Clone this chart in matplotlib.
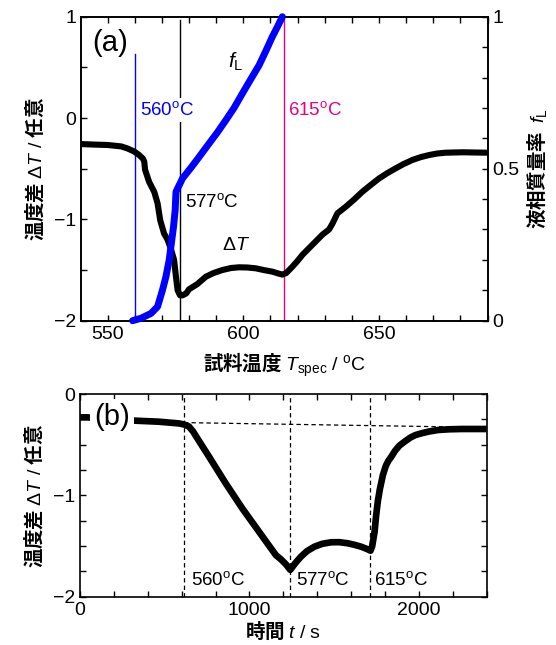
import matplotlib
matplotlib.use("Agg")
import matplotlib.pyplot as plt
from matplotlib.ticker import MultipleLocator

plt.rcParams['font.family'] = ['Liberation Sans', 'Noto Sans CJK JP', 'DejaVu Sans']
plt.rcParams['mathtext.fontset'] = 'custom'
plt.rcParams['mathtext.rm'] = 'Liberation Sans'
plt.rcParams['mathtext.it'] = 'Liberation Sans:italic'
plt.rcParams['mathtext.bf'] = 'Liberation Sans:bold'

# ---------------- data: panel (a) ----------------
temp_dT = [539.5, 545, 550, 555, 557.3, 559.8, 561.6, 563.0, 563.5, 563.8, 565.3, 567.2,
           568.4, 569.4, 570.8, 572.1, 573.3, 574.5, 575.2, 575.8, 576.7, 577.6, 579.0,
           580.0, 583.0, 586.2, 589.0, 592.3, 595.5, 598.5, 601.5, 604.6, 607.5, 610.7,
           613.0, 614.4, 615.8, 616.9, 618.1, 620.0, 621.8, 625.5, 629.2, 631.6, 632.9,
           634.7, 637.8, 641.0, 643.9, 647.0, 650.1, 653.0, 656.2, 659.0, 662.3, 665.5,
           668.5, 671.5, 674.6, 680.8, 685.0, 689.5]
dT_a = [-0.256, -0.262, -0.266, -0.28, -0.30, -0.33, -0.365, -0.40, -0.43, -0.51, -0.63, -0.73,
        -0.84, -1.01, -1.14, -1.20, -1.29, -1.40, -1.57, -1.70, -1.75, -1.75, -1.73,
        -1.69, -1.64, -1.566, -1.53, -1.50, -1.48, -1.473, -1.475, -1.483, -1.50, -1.516,
        -1.535, -1.545, -1.53, -1.50, -1.467, -1.41, -1.35, -1.25, -1.15, -1.10, -1.04,
        -0.94, -0.875, -0.80, -0.727, -0.66, -0.595, -0.545, -0.496, -0.455, -0.414, -0.385,
        -0.365, -0.350, -0.342, -0.338, -0.340, -0.342]

temp_fL = [559.2, 562.3, 566.0, 568.4, 570.2, 571.5, 572.7, 573.5, 574.3, 574.9, 575.2,
           576.4, 577.6, 580.7, 583.0, 587.4, 590.5, 593.6, 596.6, 599.7, 602.8, 605.8,
           608.3, 610.7, 612.6, 614.4]
fL = [0.0, 0.008, 0.024, 0.046, 0.10, 0.145, 0.20, 0.255, 0.31, 0.364, 0.424,
      0.446, 0.468, 0.503, 0.53, 0.583, 0.62, 0.66, 0.70, 0.748, 0.795, 0.84,
      0.887, 0.934, 0.967, 1.0]

marks_a = [560, 576.5, 615]
mark_labels = ['560', '577', '615']

# ---------------- data: panel (b) ----------------
t_b = [0, 40, 326, 464, 583, 613, 642, 667, 692, 761, 859, 958, 1057, 1156, 1185, 1215,
       1241, 1270, 1304, 1340, 1383, 1430, 1482, 1530, 1581, 1620, 1660, 1695, 1715, 1725,
       1739, 1748, 1758, 1770, 1788, 1805, 1820, 1838, 1860, 1885, 1916, 1950, 1980, 2015,
       2060, 2114, 2180, 2252, 2400]
dT_b = [-0.23, -0.23, -0.263, -0.273, -0.29, -0.30, -0.32, -0.37, -0.437, -0.618, -0.88,
        -1.13, -1.36, -1.59, -1.63, -1.68, -1.735, -1.67, -1.605, -1.55, -1.507, -1.478,
        -1.463, -1.462, -1.473, -1.488, -1.507, -1.53, -1.546, -1.50, -1.358, -1.20, -1.06,
        -0.94, -0.80, -0.71, -0.66, -0.618, -0.56, -0.51, -0.47, -0.43, -0.405, -0.388,
        -0.37, -0.355, -0.348, -0.345, -0.345]
marks_b = [613, 1241, 1713]
base_t = [613, 2400]
base_dT = [-0.282, -0.330]

fig = plt.figure(figsize=(5.56, 6.45), dpi=100)

jp = dict(family=['Noto Sans CJK JP', 'Liberation Sans'], fontweight='bold', fontsize=14)
TICK_FS = 14

def style(ax):
    ax.tick_params(which='both', direction='in', labelsize=TICK_FS, width=1.0)
    ax.tick_params(which='major', length=4.5)
    ax.tick_params(which='minor', length=4.5)
    for s in ax.spines.values():
        s.set_linewidth(1.2)

# ---------------- panel (a) ----------------
axa = fig.add_axes([0.1462, 0.5028, 0.8768 - 0.1462, 0.9741 - 0.5028])
axa.set_xlim(540.3, 690)
axa.set_ylim(-2, 1)
axa.xaxis.set_major_locator(MultipleLocator(50))
axa.xaxis.set_minor_locator(MultipleLocator(10))
axa.yaxis.set_major_locator(MultipleLocator(1))
axa.yaxis.set_minor_locator(MultipleLocator(0.5))
style(axa)
axa.tick_params(which='both', top=True, right=False)

axa.plot(temp_dT, dT_a, color='black', lw=4.4,
         solid_joinstyle='round', solid_capstyle='round', zorder=3)

axa.plot([marks_a[0]] * 2, [-2, 0.63], color='#0000FF', lw=1.0, zorder=2)
axa.plot([marks_a[1]] * 2, [-2, 0.97], color='black', lw=1.0, zorder=2)
axa.plot([marks_a[2]] * 2, [-2, 1.0], color='#E6007E', lw=1.0, zorder=2)

axr = axa.twinx()
axr.set_ylim(0, 1)
axr.yaxis.set_major_locator(MultipleLocator(0.5))
axr.yaxis.set_minor_locator(MultipleLocator(0.1))
axr.yaxis.set_major_formatter(matplotlib.ticker.FuncFormatter(lambda v, p: '%g' % v))
style(axr)
axr.tick_params(which='both', left=False, right=True, top=False, bottom=False)
axr.plot(temp_fL, fL, color='#0000FF', lw=5.0,
         solid_joinstyle='round', solid_capstyle='round', zorder=4, clip_on=False)

axa.text(550.9, 0.74, '(a)', fontsize=21, ha='center', va='center')
axa.text(561.9, 0.079, mark_labels[0] + '$^{\\rm o}$C', color='#0000FF', fontsize=13.5,
         ha='left', va='center', zorder=5,
         bbox=dict(facecolor='white', edgecolor='none', pad=2))
axa.text(578.5, -0.83, mark_labels[1] + '$^{\\rm o}$C', color='black', fontsize=13.5,
         ha='left', va='center', zorder=5)
axa.text(616.5, 0.079, mark_labels[2] + '$^{\\rm o}$C', color='#E6007E', fontsize=13.5,
         ha='left', va='center', zorder=5)
axa.text(597.3, -1.253, '$\\Delta T$', fontsize=14, ha='center', va='center')
axa.text(594.3, 0.553, '$f_{\\rm L}$', fontsize=15, ha='left', va='center')

axa.set_xlabel('試料温度 $T_{\\rm spec}\\ /\\ ^{\\rm o}{\\rm C}$', labelpad=6, **jp)
axa.set_ylabel('温度差 $\\Delta T\\ /\\ $任意', labelpad=6, **jp)
axr.set_ylabel('液相質量率  $f_{\\rm L}$', labelpad=4, **jp)

# ---------------- panel (b) ----------------
axb = fig.add_axes([0.1442, 0.0749, 0.875 - 0.1442, 0.3891 - 0.0749])
axb.set_xlim(0, 2400)
axb.set_ylim(-2, 0)
axb.xaxis.set_major_locator(MultipleLocator(1000))
axb.xaxis.set_minor_locator(MultipleLocator(200))
axb.yaxis.set_major_locator(MultipleLocator(1))
axb.yaxis.set_minor_locator(MultipleLocator(0.25))
style(axb)
axb.tick_params(which='both', top=True, right=True)

axb.plot(t_b, dT_b, color='black', lw=4.8, solid_joinstyle='round',
         solid_capstyle='butt', zorder=3)
for m in marks_b:
    axb.axvline(m, color='black', lw=0.9, ls=(0, (3.5, 2.5)), zorder=2)
axb.plot(base_t, base_dT, color='black', lw=0.9, ls=(0, (3.5, 2.5)), zorder=2)

axb.text(0.078, 0.887, '(b)', transform=axb.transAxes, fontsize=21, ha='center',
         va='center', zorder=6, bbox=dict(facecolor='white', edgecolor='none', pad=3))
for xm, lab in zip([652, 1275, 1737], mark_labels):
    axb.text(xm, -1.835, lab + '$^{\\rm o}$C', fontsize=13.5, ha='left', va='center', zorder=5)

axb.set_xlabel('時間 $t\\ /\\ {\\rm s}$', labelpad=1, **jp)
axb.set_ylabel('温度差 $\\Delta T\\ /\\ $任意', labelpad=6, **jp)

fig.savefig('out.png', dpi=100)
